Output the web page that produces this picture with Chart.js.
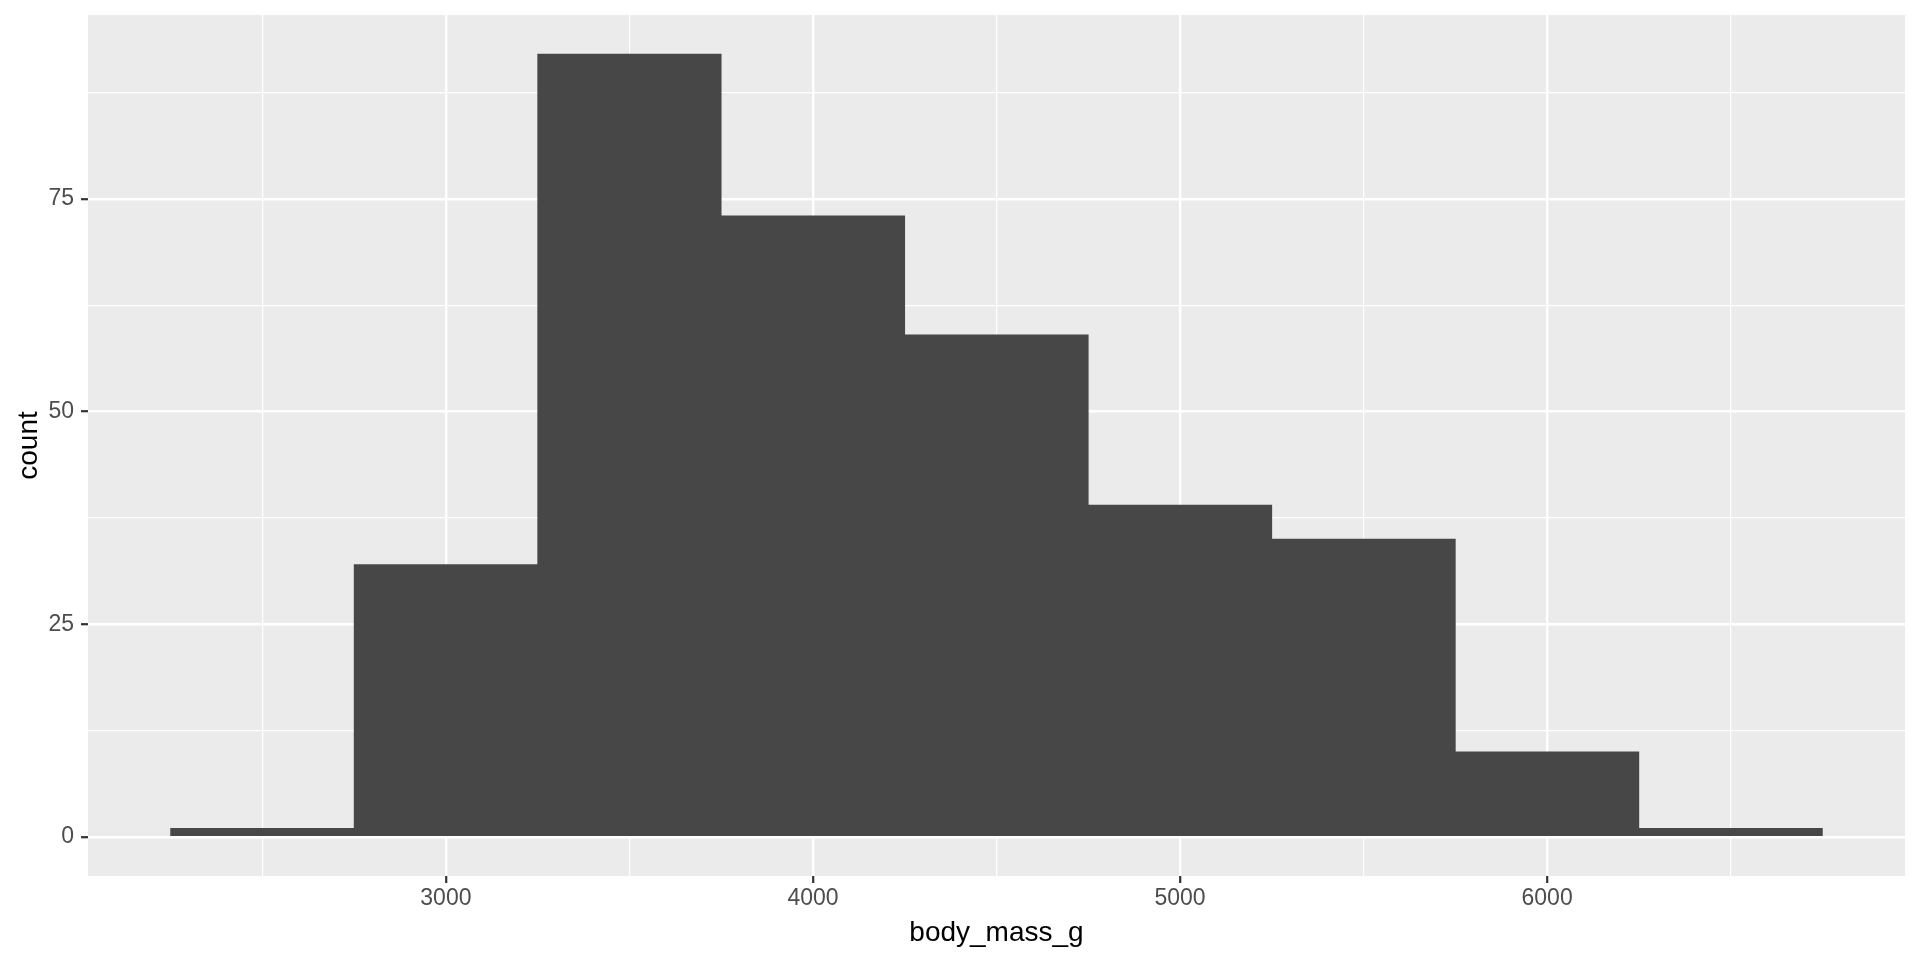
<!DOCTYPE html>
<html>
<head>
<meta charset="utf-8">
<title>body_mass_g histogram</title>
<script src="https://cdn.jsdelivr.net/npm/chart.js@4.4.1/dist/chart.umd.min.js"></script>
<style>
html, body { margin: 0; padding: 0; background: #ffffff; }
#wrap { width: 1920px; height: 960px; }
</style>
</head>
<body>
<div id="wrap"><canvas id="histogram"></canvas></div>
<script>
// histogram bins (width 500) and counts
const binCenters = [2500, 3000, 3500, 4000, 4500, 5000, 5500, 6000, 6500];
const binCounts  = [1, 32, 92, 73, 59, 39, 35, 10, 1];
const binWidth   = 500;

const xMajorTicks = [3000, 4000, 5000, 6000];
const xMinorTicks = [2500, 3500, 4500, 5500, 6500];
const yMajorTicks = [0, 25, 50, 75];
const yMinorTicks = [12.5, 37.5, 62.5, 87.5];

const FONT = "'Liberation Sans', Arial, Helvetica, sans-serif";

// ggplot style 5% expansion on both axes
const xLo = binCenters[0] - binWidth / 2;
const xHi = binCenters[binCenters.length - 1] + binWidth / 2;
const xPad = (xHi - xLo) * 0.05;
const yMax = Math.max(...binCounts);
const yPad = yMax * 0.05;

function setTicks(major, minor)
{
    return function(scale)
    {
        scale.ticks = [...major, ...minor].sort((a, b) => a - b).map(v => ({ value: v }));
    };
}

function isMajor(ctx, major)
{
    return !!(ctx && ctx.tick && major.includes(ctx.tick.value));
}

function gridFor(major)
{
    return {
        offset: false,
        color: "#ffffff",
        lineWidth: ctx => isMajor(ctx, major) ? 2.4 : 1.2,
        tickColor: ctx => isMajor(ctx, major) ? "#333333" : "rgba(0,0,0,0)",
        tickWidth: 2.2,
        tickLength: 7
    };
}

const panelBackground = {
    id: "panelBackground",
    beforeDraw(chart)
    {
        const { ctx, chartArea } = chart;
        ctx.save();
        ctx.fillStyle = "#ffffff";
        ctx.fillRect(0, 0, chart.width, chart.height);
        ctx.fillStyle = "#ebebeb";
        ctx.fillRect(chartArea.left, chartArea.top, chartArea.right - chartArea.left, chartArea.bottom - chartArea.top);
        ctx.restore();
    }
};

new Chart(document.getElementById("histogram"), {
    type: "bar",
    data: {
        datasets: [{
            data: binCenters.map((x, i) => ({ x: x, y: binCounts[i] })),
            backgroundColor: "#474747",
            borderWidth: 0,
            barPercentage: 1,
            categoryPercentage: 1
        }]
    },
    options: {
        responsive: true,
        maintainAspectRatio: false,
        animation: false,
        layout: { padding: { top: 15, right: 15, left: 0, bottom: 0 } },
        plugins: {
            legend: { display: false },
            tooltip: { enabled: false }
        },
        scales: {
            x: {
                type: "linear",
                offset: false,
                min: xLo - xPad,
                max: xHi + xPad,
                afterBuildTicks: setTicks(xMajorTicks, xMinorTicks),
                afterFit: scale => {
                    scale.height = 84;
                    scale.paddingLeft = 0;
                    scale.paddingRight = 0;
                },
                border: { display: false },
                grid: gridFor(xMajorTicks),
                ticks: {
                    autoSkip: false,
                    maxRotation: 0,
                    padding: 2,
                    color: "#4d4d4d",
                    font: { family: FONT, size: 23 },
                    callback: v => xMajorTicks.includes(v) ? String(v) : ""
                },
                title: {
                    display: true,
                    text: "body_mass_g",
                    color: "#000000",
                    font: { family: FONT, size: 28 },
                    padding: { top: 0, bottom: 10 }
                }
            },
            y: {
                type: "linear",
                min: -yPad,
                max: yMax + yPad,
                afterBuildTicks: setTicks(yMajorTicks, yMinorTicks),
                afterFit: scale => {
                    scale.width = 88;
                    scale.paddingTop = 0;
                    scale.paddingBottom = 0;
                },
                border: { display: false },
                grid: gridFor(yMajorTicks),
                ticks: {
                    autoSkip: false,
                    padding: 7,
                    color: "#4d4d4d",
                    font: { family: FONT, size: 23 },
                    callback: v => yMajorTicks.includes(v) ? String(v) : ""
                },
                title: {
                    display: true,
                    text: "count",
                    color: "#000000",
                    font: { family: FONT, size: 28 },
                    padding: { top: 12, bottom: 0 }
                }
            }
        }
    },
    plugins: [panelBackground]
});
</script>
</body>
</html>
